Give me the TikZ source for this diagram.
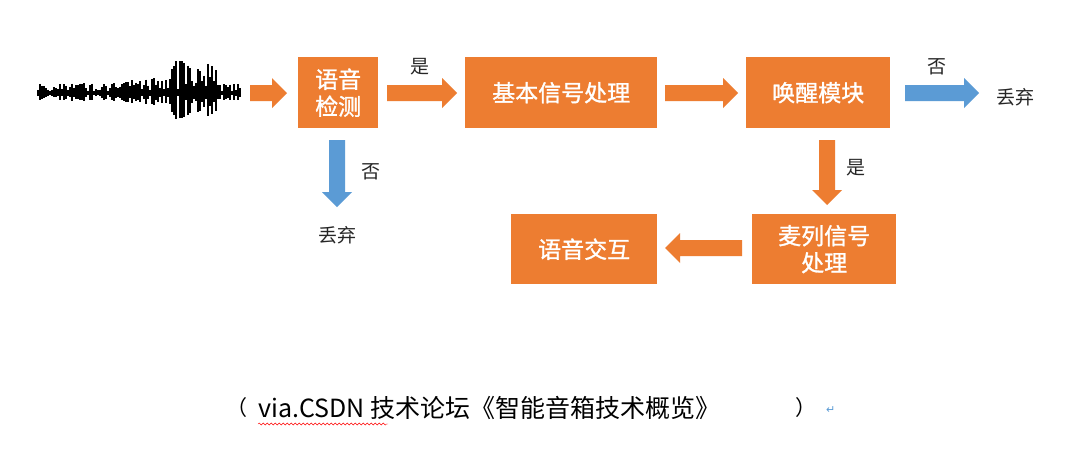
\documentclass[tikz,border=0pt]{standalone}
\usepackage{fontspec}
\setmainfont{Noto Sans CJK SC}
\newfontfamily\bx[FakeBold=1.2]{Noto Sans CJK SC}
\newfontfamily\djv{DejaVu Sans}
\usetikzlibrary{decorations.pathmorphing}
\definecolor{org}{HTML}{ED7D31}
\definecolor{blu}{HTML}{5B9BD5}
\tikzset{
 boxs/.style={fill=org,text=white,font=\bx\fontsize{23}{27}\selectfont,align=center,inner sep=0pt,anchor=north west},
 lbl/.style={font=\fontsize{19}{22}\selectfont,text=black!85}
}
\newcommand\rarr[4]{\fill[#4] (#1,#3-8)--(#2-15,#3-8)--(#2-15,#3-15)--(#2,#3)--(#2-15,#3+15)--(#2-15,#3+8)--(#1,#3+8)--cycle;}
\newcommand\larr[4]{\fill[#4] (#2,#3-8)--(#1+15,#3-8)--(#1+15,#3-15)--(#1,#3)--(#1+15,#3+15)--(#1+15,#3+8)--(#2,#3+8)--cycle;}
\newcommand\darr[4]{\fill[#4] (#3-8,#1)--(#3-8,#2-15)--(#3-15,#2-15)--(#3,#2)--(#3+15,#2-15)--(#3+8,#2-15)--(#3+8,#1)--cycle;}
\begin{document}
\begin{tikzpicture}[x=1pt,y=-1pt]
\useasboundingbox[fill=white] (0,0) rectangle (1080,453);
% waveform
\pgfmathsetseed{7}
\draw[line width=1.2pt] (38,93)--(240,93);
\foreach \i in {38,40,...,240}{
  \pgfmathsetmacro\env{ifthenelse(\i>168 && \i<218, 28*rnd+4, ifthenelse(\i>110 && \i<170, 12*rnd+3, 8*rnd+2))}
  \draw[line width=1.1pt] (\i,93-\env)--(\i,93+0.8*\env);
}
\node[boxs,minimum width=80pt,minimum height=71pt] (vd) at (298,57) {语音\\检测};
\node[boxs,minimum width=192pt,minimum height=71pt] (bs) at (465,57) {基本信号处理};
\node[boxs,minimum width=144pt,minimum height=71pt] (wk) at (746,57) {唤醒模块};
\node[boxs,minimum width=144pt,minimum height=70pt] (mc) at (752,214) {麦列信号\\处理};
\node[boxs,minimum width=146pt,minimum height=70pt] (vi) at (511,214) {语音交互};
\rarr{250}{287}{93}{org}
\rarr{387}{457}{93}{org}
\rarr{665}{738}{93}{org}
\rarr{905}{979}{93}{blu}
\darr{140}{207}{337}{blu}
\darr{140}{205}{827}{org}
\larr{665}{742}{248}{org}
\node[lbl] (y1) at (420,67) {是};
\node[lbl] (n1) at (937,67) {否};
\node[lbl] (d1) at (1015,97) {丢弃};
\node[lbl] (n2) at (371,172) {否};
\node[lbl] (d2) at (337,235) {丢弃};
\node[lbl] (y2) at (856,168) {是};
\node[font=\fontsize{21}{24}\selectfont,anchor=west,inner sep=0pt] (p1) at (226,408) {（};
\node[font=\fontsize{25}{28}\selectfont,anchor=west,inner sep=0pt] (cap) at (258,408) {via.CSDN 技术论坛《智能音箱技术概览》};
\node[font=\fontsize{21}{24}\selectfont,anchor=west,inner sep=0pt] (p2) at (795,408) {）};
\node[font=\djv\fontsize{11}{12}\selectfont,text=blu,anchor=west,inner sep=0pt] (ret) at (826,410) {↵};
\draw[red,decorate,decoration={snake,amplitude=1pt,segment length=4pt}] (258,424)--(388,424);
\end{tikzpicture}
\end{document}
